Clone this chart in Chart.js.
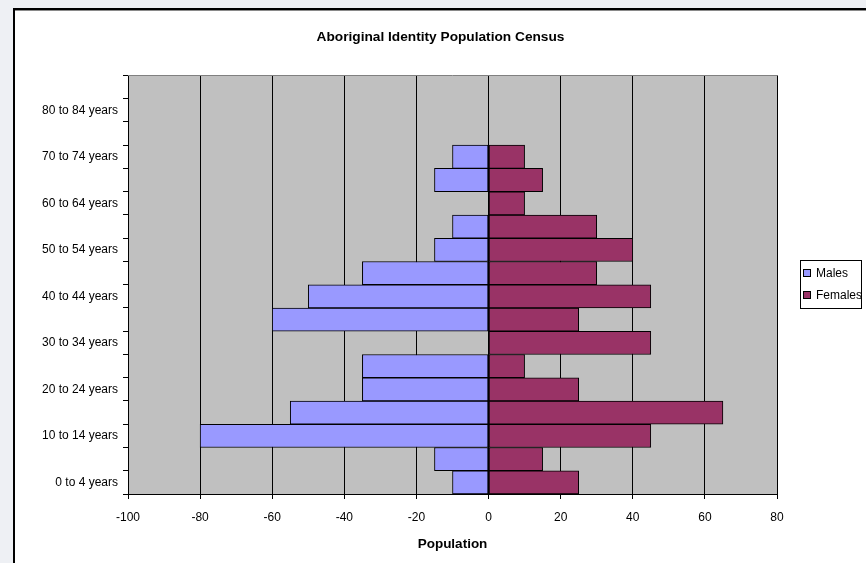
<!DOCTYPE html>
<html>
<head>
<meta charset="utf-8">
<script src="https://cdn.jsdelivr.net/npm/chart.js@4/dist/chart.umd.min.js"></script>
<style>
  html, body { margin: 0; padding: 0; width: 866px; height: 563px; overflow: hidden; background: #eef0f4; }
  #panel { position: absolute; left: 13px; top: 8px; width: 900px; height: 600px; background: #fff;
           border-left: 2px solid #000; border-top: 2px solid #000; box-shadow: inset 0 1px 0 #8a8a8a; }
  #c { position: absolute; left: 0; top: 0; }
</style>
</head>
<body>
<div id="panel"><canvas id="c" width="851" height="553"></canvas></div>
<script>
// Age groups, youngest first (drawn bottom to top)
const ageGroups = [
  '0 to 4 years', '5 to 9 years', '10 to 14 years', '15 to 19 years',
  '20 to 24 years', '25 to 29 years', '30 to 34 years', '35 to 39 years',
  '40 to 44 years', '45 to 49 years', '50 to 54 years', '55 to 59 years',
  '60 to 64 years', '65 to 69 years', '70 to 74 years', '75 to 79 years',
  '80 to 84 years', '85 years and over'
];
// Males plotted as negative counts so they extend left of zero
const males   = [-10, -15, -80, -55, -35, -35,  0, -60, -50, -35, -15, -10,  0, -15, -10, 0, 0, 0];
const females = [ 25,  15,  45,  65,  25,  10, 45,  25,  45,  30,  40,  30, 10,  15,  10, 0, 0, 0];

const seriesNames = ['Males', 'Females'];
const seriesColors = ['#9999ff', '#993366'];

const xMin = -100, xMax = 80, xStep = 20;

const FONT = "'Liberation Sans', Arial, Helvetica, sans-serif";
Chart.defaults.font.family = FONT;
Chart.defaults.font.size = 12;
Chart.defaults.color = '#000';

// Grey plot area with a thin darker top edge
const plotBackground = {
  id: 'plotBackground',
  beforeDraw(chart) {
    const { ctx, chartArea: a } = chart;
    ctx.save();
    ctx.fillStyle = '#c0c0c0';
    ctx.fillRect(a.left, a.top, a.right - a.left, a.bottom - a.top);
    ctx.restore();
  },
  afterDraw(chart) {
    const { ctx, chartArea: a } = chart;
    ctx.save();
    ctx.strokeStyle = '#808080';
    ctx.lineWidth = 1;
    ctx.beginPath();
    ctx.moveTo(a.left, Math.floor(a.top) + 0.5);
    ctx.lineTo(a.right, Math.floor(a.top) + 0.5);
    ctx.stroke();
    ctx.restore();
  }
};

// Boxed legend to the right of the plot, centred on it vertically
const boxedLegend = {
  id: 'boxedLegend',
  afterDraw(chart) {
    const { ctx, chartArea: a } = chart;
    const sets = chart.data.datasets;
    const left = Math.round(a.right + 23);
    const w = 61, rowH = 22, h = 48;
    const cy = (a.top + a.bottom) / 2;
    const top = Math.round(cy - h / 2) - 1;
    ctx.save();
    ctx.fillStyle = '#fff';
    ctx.fillRect(left, top, w, h);
    ctx.strokeStyle = '#000';
    ctx.lineWidth = 1;
    ctx.strokeRect(left + 0.5, top + 0.5, w, h);
    ctx.font = '12px ' + FONT;
    ctx.textBaseline = 'middle';
    ctx.textAlign = 'left';
    sets.forEach((ds, i) => {
      const y = Math.round(top + h / 2 + (i - (sets.length - 1) / 2) * rowH);
      ctx.fillStyle = ds.backgroundColor;
      ctx.fillRect(left + 4, y - 3, 6, 6);
      ctx.strokeStyle = '#000';
      ctx.strokeRect(left + 3.5, y - 3.5, 7, 7);
      ctx.fillStyle = '#000';
      ctx.fillText(ds.label, left + 16, y + 1);
    });
    ctx.restore();
  }
};

new Chart(document.getElementById('c'), {
  type: 'bar',
  data: {
    labels: ageGroups,
    datasets: [
      { label: seriesNames[0], data: males, backgroundColor: seriesColors[0],
        borderColor: '#000', borderWidth: 1, borderSkipped: false },
      { label: seriesNames[1], data: females, backgroundColor: seriesColors[1],
        borderColor: '#000', borderWidth: 1, borderSkipped: false }
    ]
  },
  options: {
    indexAxis: 'y',
    responsive: false,
    animation: false,
    events: [],
    datasets: { bar: { barPercentage: 1, categoryPercentage: 1 } },
    layout: { padding: 0 },
    plugins: {
      legend: { display: false },
      tooltip: { enabled: false },
      title: {
        display: true,
        text: 'Aboriginal Identity Population Census',
        font: { size: 13.7, weight: 'bold' },
        color: '#000',
        padding: { top: 19, bottom: 30 }
      }
    },
    scales: {
      x: {
        type: 'linear',
        stacked: true,
        min: xMin, max: xMax,
        ticks: { stepSize: xStep, padding: 11, color: '#000', font: { size: 12 } },
        grid: { color: '#000', lineWidth: 1, drawTicks: true, tickLength: 5, tickColor: '#000' },
        border: { display: true, color: '#000', width: 1 },
        title: { display: true, text: 'Population', font: { size: 13.5, weight: 'bold' },
                 color: '#000', padding: { top: 4, bottom: 11 } },
        afterFit(s) { s.height = 69; }
      },
      y: {
        type: 'category',
        stacked: true,
        reverse: true,
        ticks: {
          autoSkip: false, padding: 5, color: '#000', font: { size: 12 },
          callback(v, i) { return i % 2 === 0 ? ageGroups[i] : ''; }
        },
        grid: { offset: true, drawOnChartArea: false, drawTicks: true, tickLength: 5, tickColor: '#000', color: '#000' },
        border: { display: true, color: '#000', width: 1 },
        afterFit(s) { s.width = 113; }
      },
      // reserves the space to the right of the plot where the legend sits
      legendSpace: {
        type: 'category',
        position: 'right',
        display: true,
        ticks: { display: false },
        grid: { display: false },
        border: { display: false },
        afterFit(s) { s.width = 89; }
      }
    }
  },
  plugins: [plotBackground, boxedLegend]
});
</script>
</body>
</html>
